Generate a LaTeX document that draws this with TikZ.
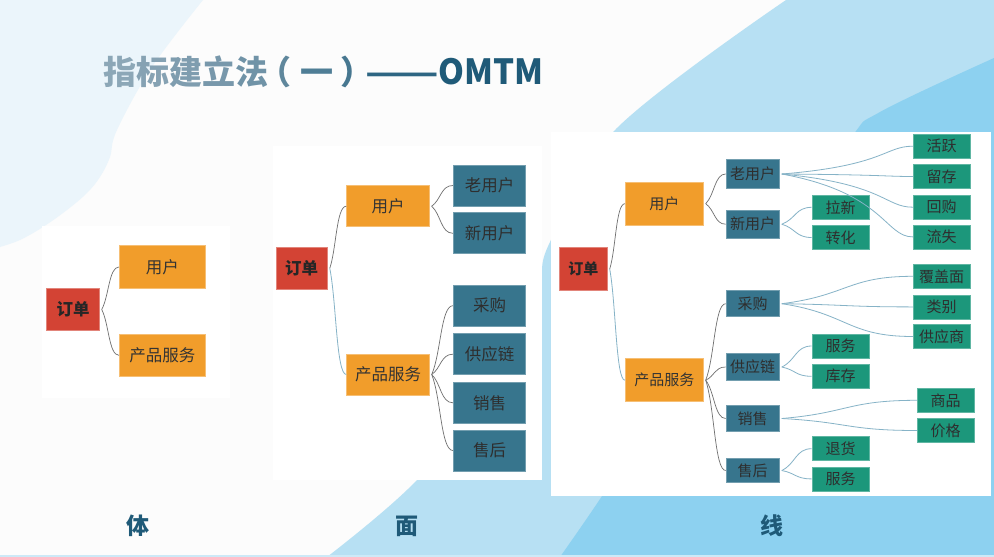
\documentclass[tikz,border=0pt]{standalone}
\usepackage{fontspec}
\setmainfont{Noto Sans CJK SC}
\usetikzlibrary{calc}
\definecolor{bgw}{HTML}{FCFCFC}
\definecolor{bgl}{HTML}{EBF5FB}
\definecolor{bgb}{HTML}{B7E0F3}
\definecolor{bgd}{HTML}{8DD1F0}
\definecolor{cred}{HTML}{D34334}
\definecolor{cora}{HTML}{F19D2B}
\definecolor{cteal}{HTML}{37758D}
\definecolor{cgreen}{HTML}{1C977B}
\definecolor{ctxt}{HTML}{333333}
\definecolor{lgrey}{HTML}{6F6F6F}
\definecolor{lblue}{HTML}{86B3C7}
\definecolor{tdark}{HTML}{1F5A78}
\definecolor{ta}{HTML}{8CA7B7}
\definecolor{tb}{HTML}{86A2B3}
\definecolor{tc}{HTML}{7F9DAF}
\definecolor{td}{HTML}{7898AB}
\definecolor{te}{HTML}{7093A7}
\definecolor{tf}{HTML}{5F879C}
\definecolor{tg}{HTML}{4F7E96}
\definecolor{th}{HTML}{477790}
\definecolor{ti}{HTML}{2E6683}
\tikzset{
  box/.style={rectangle, inner sep=0pt, line width=0.8pt, text=ctxt},
  redbox/.style={box, fill=cred, draw=cred!65!white, text=black!85},
  orbox/.style={box, fill=cora, draw=cora!65!white},
  tlbox/.style={box, fill=cteal, draw=cteal!70!white, text=black!82},
  grbox/.style={box, fill=cgreen, draw=cgreen!70!white, text=black!82},
  big/.style={font=\fontsize{16.5}{18}\selectfont},
  bigb/.style={font=\bfseries\fontsize{16.5}{18}\selectfont},
  sml/.style={font=\fontsize{15}{17}\selectfont},
  smlb/.style={font=\bfseries\fontsize{15}{17}\selectfont},
  conn/.style={draw=lgrey, line width=0.7pt},
  bconn/.style={draw=lblue, line width=0.8pt},
  panel/.style={fill=white, draw=none},
  lbl/.style={font=\bfseries\fontsize{23}{25}\selectfont, text=tdark, inner sep=0pt}
}
\newcommand\cn[4][]{%
  \draw[conn,#1] let \p1=($(#2.east)+(2,0)$), \p2=(#3.west) in
    (\p1) .. controls ({\x2-#4pt},{\y1+0.3*(\y2-\y1)}) and ({\x2-#4pt},{\y2}) .. (\p2);}
\begin{document}
\begin{tikzpicture}[x=1pt,y=-1pt]
\useasboundingbox (0,0) rectangle (994,557);
% background
\fill[bgw] (0,0) rectangle (994,557);
\fill[bgl] (0,0) -- plot[smooth,tension=0.6] coordinates {(203,0) (152,67) (117,130) (110,157) (100,177) (87,193) (67,210) (43,227) (20,240) (0,247)} -- cycle;
\fill[bgb] (994,0) -- plot[smooth,tension=0.6] coordinates {(786,0) (615,130) (550,242) (537,290) (495,380) (417,480) (327,557)} -- (994,557) -- cycle;
\fill[bgd] (994,0) -- plot[smooth,tension=0.6] coordinates {(994,58) (880,112) (849,140) (760,260) (650,420) (602,496) (560,557)} -- (994,557) -- cycle;
\fill[bgb] (994,0) -- (994,58) -- (1000,58) -- (1000,0) -- cycle;
\draw[draw=bgb!70!white, line width=1.5pt] (0,556) -- (994,556);
% panels
\fill[panel] (42,226) rectangle (230,398);
\fill[panel] (273,146) rectangle (542,480);
\fill[panel] (551,132) rectangle (991,496);
% title
\node[anchor=base west, inner sep=0pt, font=\bfseries\fontsize{33}{36}\selectfont] (title) at (103,84)
 {\textcolor{ta}{指}\textcolor{tb}{标}\textcolor{tc}{建}\textcolor{td}{立}\textcolor{te}{法}\hspace{-10pt}\textcolor{tf}{（}\hspace{9pt}\textcolor{tg}{一}\hspace{7pt}\textcolor{th}{）}\hspace{-8pt}\textcolor{ti}{\scalebox{1.3}[1]{——}}\textcolor{tdark}{\scalebox{1.0}[1.05]{OMTM}}};
% ===== left diagram =====
\node[redbox,bigb,minimum width=52.6pt,minimum height=42.4pt] (L0) at (73,309.5) {订单};
\node[orbox,big,minimum width=86pt,minimum height=42.6pt] (L1) at (162.3,267) {用户};
\node[orbox,big,minimum width=86pt,minimum height=42.6pt] (L2) at (162.3,355.3) {产品服务};
\cn{L0}{L1}{10}
\cn{L0}{L2}{10}
% ===== middle diagram =====
\node[redbox,bigb,minimum width=51.3pt,minimum height=41.3pt] (M0) at (301.7,268.3) {订单};
\node[orbox,big,minimum width=82.6pt,minimum height=41pt] (M1) at (388,206.2) {用户};
\node[orbox,big,minimum width=82.6pt,minimum height=41pt] (M2) at (388,374.5) {产品服务};
\foreach \n/\y/\t in {Ma/185.5/老用户, Mb/233.3/新用户, Mc/305.7/采购, Md/354.2/供应链, Me/402.8/销售, Mf/450.5/售后}
  \node[tlbox,big,minimum width=72.4pt,minimum height=41pt] (\n) at (489.5,\y) {\t};
\cn{M0}{M1}{10}
\cn[bconn]{M0}{M2}{10}
\cn{M1}{Ma}{12}
\cn{M1}{Mb}{12}
\cn{M2}{Mc}{12}
\cn{M2}{Md}{12}
\cn{M2}{Me}{12}
\cn{M2}{Mf}{12}
% ===== right diagram =====
\node[redbox,smlb,minimum width=48pt,minimum height=43.4pt] (R0) at (583.3,269) {订单};
\node[orbox,sml,minimum width=78pt,minimum height=43.3pt] (R1) at (664.3,203.7) {用户};
\node[orbox,sml,minimum width=78pt,minimum height=43pt] (R2) at (664.3,380.2) {产品服务};
\node[tlbox,sml,minimum width=53.3pt,minimum height=29.4pt] (Ra) at (752.7,174) {老用户};
\node[tlbox,sml,minimum width=53.3pt,minimum height=28.3pt] (Rb) at (752.7,224.2) {新用户};
\node[tlbox,sml,minimum width=53.3pt,minimum height=26pt] (Rc) at (752.7,303.7) {采购};
\node[tlbox,sml,minimum width=53.3pt,minimum height=27.4pt] (Rd) at (752.7,367) {供应链};
\node[tlbox,sml,minimum width=53.3pt,minimum height=26.4pt] (Re) at (752.7,418.5) {销售};
\node[tlbox,sml,minimum width=53.3pt,minimum height=24pt] (Rf) at (752.7,470.5) {售后};
\foreach \n/\x/\y/\t in {G1/941.7/146.2/活跃, G2/941.7/176.5/留存, G3/941.7/207.2/回购, G4/941.7/236.9/流失,
  G5/840.5/207.3/拉新, G6/840.5/237.5/转化,
  G7/941.7/276.3/覆盖面, G8/941.7/306.9/类别, G9/941.7/336.5/供应商,
  G10/840.5/346/服务, G11/840.5/376.3/库存,
  G12/945.7/400.3/商品, G13/945.7/430.5/价格,
  G14/840.5/448.7/退货, G15/840.5/478.9/服务}
  \node[grbox,sml,minimum width=57pt,minimum height=24pt] (\n) at (\x,\y) {\t};
\cn{R0}{R1}{9}
\cn[bconn]{R0}{R2}{9}
\cn{R1}{Ra}{11}
\cn{R1}{Rb}{11}
\cn{R2}{Rc}{11}
\cn{R2}{Rd}{11}
\cn{R2}{Re}{11}
\cn{R2}{Rf}{11}
\cn[bconn]{Ra}{G1}{28}
\cn[bconn]{Ra}{G2}{28}
\cn[bconn]{Ra}{G3}{28}
\cn[bconn]{Ra}{G4}{28}
\cn[bconn]{Rb}{G5}{16}
\cn[bconn]{Rb}{G6}{16}
\cn[bconn]{Rc}{G7}{65}
\cn[bconn]{Rc}{G8}{65}
\cn[bconn]{Rc}{G9}{65}
\cn[bconn]{Rd}{G10}{16}
\cn[bconn]{Rd}{G11}{16}
\cn[bconn]{Re}{G12}{69}
\cn[bconn]{Re}{G13}{69}
\cn[bconn]{Rf}{G14}{16}
\cn[bconn]{Rf}{G15}{16}
% bottom labels
\node[lbl] (b1) at (138,526) {体};
\node[lbl] (b2) at (407,526) {面};
\node[lbl] (b3) at (772,526) {线};
\end{tikzpicture}
\end{document}
